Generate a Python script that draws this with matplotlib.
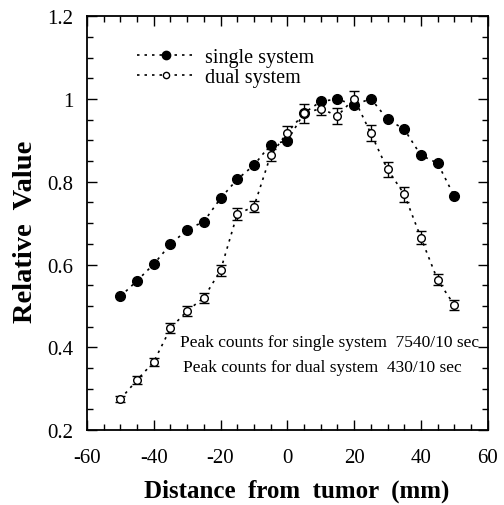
import numpy as np
import matplotlib
matplotlib.use("Agg")
from matplotlib import pyplot as plt
from matplotlib.ticker import MultipleLocator
from matplotlib.lines import Line2D

# distance from tumor (mm)
distance = [-50, -45, -40, -35, -30, -25, -20, -15, -10, -5, 0,
            5, 10, 15, 20, 25, 30, 35, 40, 45, 50]

single = [0.523, 0.561, 0.601, 0.649, 0.684, 0.704, 0.760, 0.806, 0.840, 0.890, 0.899,
          0.966, 0.994, 1.000, 0.985, 1.001, 0.951, 0.927, 0.864, 0.845, 0.765]

dual = [0.275, 0.321, 0.365, 0.446, 0.488, 0.520, 0.586, 0.722, 0.740, 0.864, 0.919,
        0.965, 0.977, 0.959, 1.001, 0.917, 0.830, 0.770, 0.665, 0.563, 0.502]

dual_err = [0.008, 0.009, 0.010, 0.012, 0.012, 0.012, 0.013, 0.014, 0.014, 0.014, 0.015,
            0.024, 0.016, 0.019, 0.019, 0.019, 0.018, 0.018, 0.015, 0.013, 0.012]

plt.rcParams["font.family"] = "Liberation Serif"
plt.rcParams["axes.unicode_minus"] = False

fig = plt.figure(figsize=(5.04, 5.06), dpi=100)
ax = fig.add_axes([0.1726, 0.148, 0.795, 0.818])

dots = (0, (1.5, 3))
ax.plot(distance, single, linestyle=dots, color="k", lw=1.2,
        marker="o", ms=7, mfc="k", mec="k")
ax.errorbar(distance, dual, yerr=dual_err, linestyle=dots, color="k", lw=1.2,
            marker="o", ms=5.5, mfc="white", mec="k", mew=1.0,
            ecolor="k", elinewidth=1.0, capsize=3.5)

ax.set_xlim(-60, 60)
ax.set_ylim(0.2, 1.2)
ax.xaxis.set_major_locator(MultipleLocator(20))
ax.xaxis.set_minor_locator(MultipleLocator(5))
ax.yaxis.set_minor_locator(MultipleLocator(0.05))
ax.set_yticks([0.2, 0.4, 0.6, 0.8, 1.0, 1.2])
ax.set_yticklabels(["0.2", "0.4", "0.6", "0.8", "1", "1.2"])
ax.tick_params(which="both", direction="in", top=True, right=True, labelsize=15, width=1.0)
ax.tick_params(which="major", length=7)
ax.tick_params(which="minor", length=4)
ax.tick_params(axis="x", which="major", pad=13)
ax.tick_params(axis="y", which="major", pad=10)
for s in ax.spines.values():
    s.set_linewidth(1.3)

ax.set_xlabel("Distance  from  tumor  (mm)", fontsize=18, fontweight="bold")
ax.xaxis.set_label_coords(0.523, -0.118)
ax.set_ylabel("Relative  Value", fontsize=20.5, fontweight="bold")
ax.yaxis.set_label_coords(-0.122, 0.482)

handles = [
    Line2D([], [], linestyle=dots, color="k", lw=1.2, marker="o", ms=6, mfc="k", mec="k"),
    Line2D([], [], linestyle=dots, color="k", lw=1.2, marker="o", ms=4.5, mfc="white", mec="k"),
]
ax.legend(handles, ["single system", "dual system"], loc="upper left",
          bbox_to_anchor=(0.125, 0.923), frameon=False, fontsize=14.5,
          handlelength=2.9, handletextpad=0.45, borderpad=0, labelspacing=0.05,
          borderaxespad=0)

ax.text(0.232, 0.213, "Peak counts for single system  7540/10 sec", transform=ax.transAxes,
        fontsize=12.5, va="center")
ax.text(0.239, 0.152, "Peak counts for dual system  430/10 sec", transform=ax.transAxes,
        fontsize=12.5, va="center")

fig.savefig("out.png", dpi=100)
